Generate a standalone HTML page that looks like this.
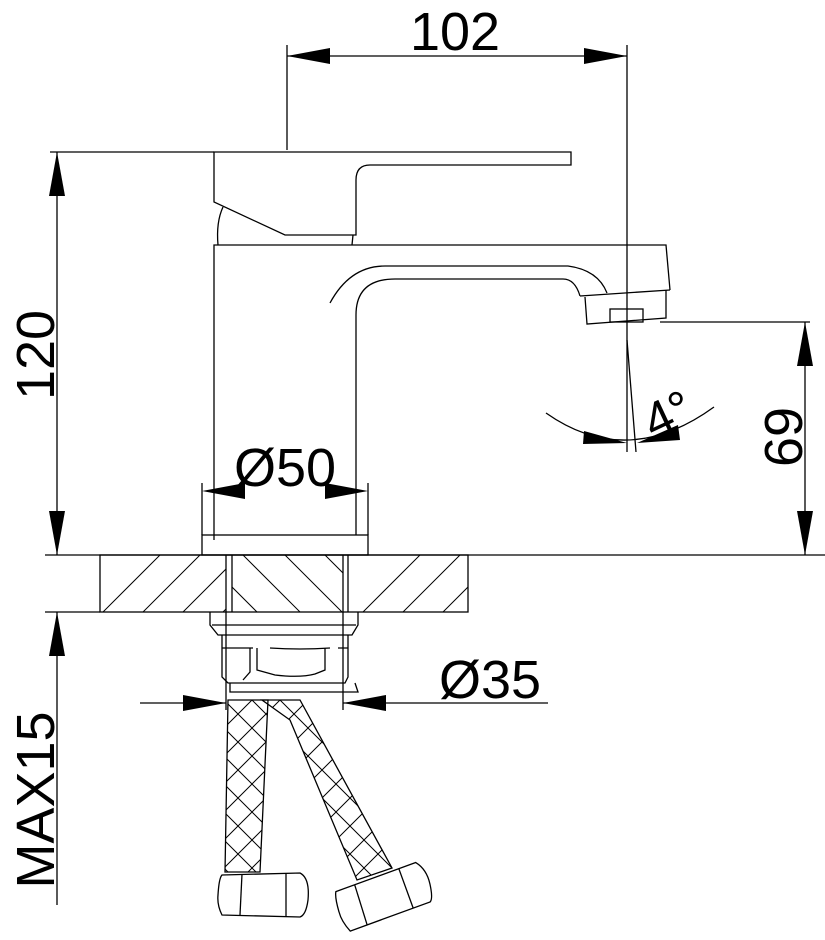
<!DOCTYPE html>
<html><head><meta charset="utf-8"><style>html,body{margin:0;padding:0;background:#fff}svg{display:block}</style></head><body>
<svg width="825" height="940" viewBox="0 0 825 940" xmlns="http://www.w3.org/2000/svg" font-family="Liberation Sans, sans-serif">
<defs>
<clipPath id="slabL"><rect x="100" y="555" width="126" height="57"/></clipPath>
<clipPath id="slabC"><rect x="232" y="555" width="111" height="57"/></clipPath>
<clipPath id="slabR"><rect x="348" y="555" width="120" height="57"/></clipPath>
<clipPath id="hoseL"><polygon points="228,700 268,700 260,872 225,872"/></clipPath>
<pattern id="mesh" width="28" height="28" patternUnits="userSpaceOnUse"><path d="M0,0 L28,28 M28,0 L0,28" stroke="#000" stroke-width="1"/></pattern>
</defs>
<g fill="none" stroke="#000" stroke-width="1.3">
<line x1="287" y1="45" x2="287" y2="150"/>
<line x1="627" y1="45" x2="627" y2="452"/>
<line x1="287" y1="56" x2="627" y2="56"/>
<line x1="50" y1="152" x2="214" y2="152"/>
<line x1="57" y1="152" x2="57" y2="555"/>
<line x1="45" y1="555" x2="825" y2="555"/>
<line x1="45" y1="612" x2="100" y2="612"/>
<line x1="57" y1="612" x2="57" y2="905"/>
<line x1="660" y1="322" x2="810" y2="322"/>
<line x1="805" y1="322" x2="805" y2="555"/>
<path d="M214,152 L571,152 L571,165 L370,165 Q356,165 356,180 L356,235 L285,235 L214,202 Z"/>
<path d="M223,207 Q216,222 218,245"/>
<path d="M353,235 L352,245"/>
<path d="M214,540 L214,245 L666,245 L670,290"/>
<path d="M356,535 L356,315 Q356,279 395,279 L563,279 Q575,279 580,296"/>
<path d="M330,303 Q350,266 385,266 L568,266 Q598,270 607,293"/>
<path d="M580,296 L670,290"/>
<path d="M585,297 L587,324 L666,318 L666,290"/>
<rect x="610" y="309" width="33" height="13"/>
<line x1="627" y1="340" x2="636" y2="452"/>
<path d="M546,413 Q627,470 714,407"/>
<rect x="202" y="535" width="166" height="20"/>
<line x1="202" y1="483" x2="202" y2="535"/>
<line x1="368" y1="483" x2="368" y2="535"/>
<rect x="100" y="555" width="368" height="57"/>
<line x1="226" y1="555" x2="226" y2="612"/><line x1="232" y1="555" x2="232" y2="612"/>
<line x1="343" y1="555" x2="343" y2="612"/><line x1="348" y1="555" x2="348" y2="612"/>
<g clip-path="url(#slabL)" stroke-width="1"><path d="M60,655 L160,555 M100,655 L200,555 M140,655 L240,555 M180,655 L280,555 M220,655 L320,555"/></g>
<g clip-path="url(#slabR)" stroke-width="1"><path d="M320,655 L420,555 M360,655 L460,555 M400,655 L500,555 M440,655 L540,555"/></g>
<g clip-path="url(#slabC)" stroke-width="1"><path d="M200,555 L260,615 M243,555 L303,615 M285,555 L345,615 M325,555 L385,615"/></g>
<path d="M210,612 L210,625 L218,635 L352,635 L358,625 L358,612"/>
<line x1="212" y1="625" x2="356" y2="625"/>
<line x1="226" y1="612" x2="226" y2="710"/><line x1="343" y1="612" x2="343" y2="710"/>
<path d="M222,635 L222,677 L228,683 L345,683 L348,677 L348,635"/>
<path d="M222,648 L253,648 M270,648 Q300,650 330,648 M338,648 L348,648"/>
<path d="M250,648 L250,672 L243,680 M257,648 L257,670 L275,675 Q300,678 315,674 L325,670 L325,648"/>
<path d="M230,683 L230,692 L358,692 L355,683"/>
<line x1="140" y1="703" x2="226" y2="703"/>
<line x1="343" y1="703" x2="548" y2="703"/>
<polygon points="228,700 268,700 260,872 225,872"/>
<rect x="220" y="700" width="55" height="172" fill="url(#mesh)" clip-path="url(#hoseL)" stroke="none"/>
<polygon points="262,700 300,700 392,868 357,880 290,720" fill="url(#mesh)"/>
<path d="M222,875 L300,873 Q310,878 308,900 Q306,915 300,917 L222,915 Q217,905 218,895 Q219,878 222,875 Z"/>
<line x1="242" y1="874" x2="240" y2="915"/><line x1="286" y1="874" x2="286" y2="916"/>
<g transform="translate(385,895) rotate(-20)"><path d="M-45,-20 L40,-20 Q48,-10 46,5 Q44,20 40,22 L-45,22 Q-50,10 -49,0 Q-48,-15 -45,-20 Z"/><line x1="-25" y1="-20" x2="-27" y2="22"/><line x1="22" y1="-20" x2="22" y2="22"/></g>
</g>
<g fill="#000">
<polygon points="287,56 330,48 330,64"/>
<polygon points="627,56 584,48 584,64"/>
<polygon points="57,152 49,196 65,196"/>
<polygon points="57,555 49,511 65,511"/>
<polygon points="57,612 49,656 65,656"/>
<polygon points="805,322 797,366 813,366"/>
<polygon points="805,555 797,511 813,511"/>
<polygon points="202,491 245,483 245,499"/>
<polygon points="368,491 325,483 325,499"/>
<polygon points="226,703 183,695 183,711"/>
<polygon points="343,703 386,695 386,711"/>
<polygon points="627,443 584,431 583,444"/>
<polygon points="637,443 678,425 680,440"/>
</g>
<g fill="#000" font-size="54">
<text x="455" y="50" text-anchor="middle">102</text>
<text x="285" y="486" text-anchor="middle">Ø50</text>
<text x="490" y="698" text-anchor="middle">Ø35</text>
<text transform="translate(54,355) rotate(-90)" text-anchor="middle">120</text>
<text transform="translate(54,800) rotate(-90)" text-anchor="middle">MAX15</text>
<text transform="translate(802,437) rotate(-90)" text-anchor="middle">69</text>
<text transform="translate(675,430) rotate(-25)" text-anchor="middle" font-size="50">4°</text>
</g>
</svg>
</body></html>
